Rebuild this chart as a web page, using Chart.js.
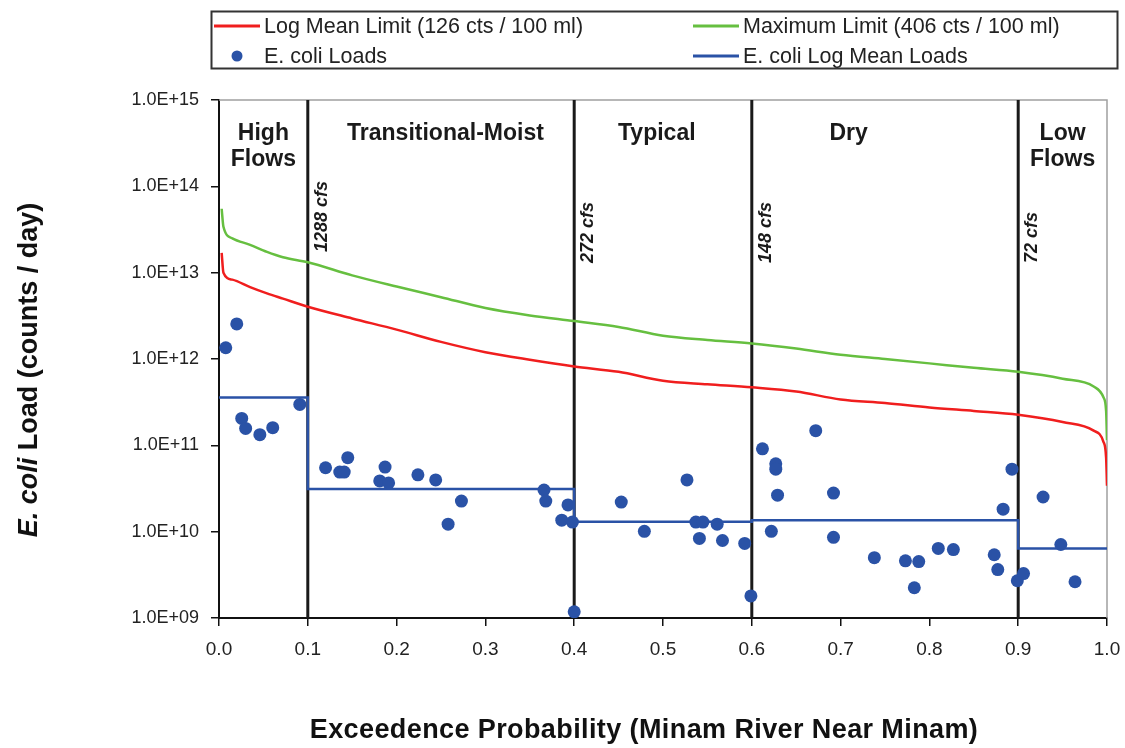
<!DOCTYPE html>
<html>
<head>
<meta charset="utf-8">
<script src="https://cdn.jsdelivr.net/npm/chart.js@4.4.0/dist/chart.umd.min.js"></script>
<style>
  html, body { margin: 0; padding: 0; background: #fff; }
</style>
</head>
<body>
<canvas id="myChart" width="1125" height="748"></canvas>
<script>
// Load duration curve - Minam River near Minam

// exceedence probability along the flow duration curve
var curveX = [0.003, 0.005, 0.015, 0.035, 0.054, 0.072, 0.1, 0.15, 0.2, 0.25, 0.3, 0.35, 0.4, 0.45,
              0.5, 0.55, 0.6, 0.65, 0.7, 0.75, 0.8, 0.85, 0.9, 0.95, 0.985, 0.996, 0.999, 1.0];
// 126 cts / 100 ml
var logMeanLimit = [1.70e13, 1.0e13, 8.3e12, 6.8e12, 5.75e12, 5.0e12, 4.03e12, 2.95e12, 2.19e12, 1.58e12,
                    1.20e12, 9.8e11, 8.2e11, 7.1e11, 5.6e11, 5.1e11, 4.7e11, 4.2e11, 3.4e11, 3.1e11,
                    2.75e11, 2.5e11, 2.26e11, 1.86e11, 1.48e11, 1.10e11, 7.2e10, 3.4e10];
// 406 cts / 100 ml
var maxLimit = [5.5e13, 3.4e13, 2.5e13, 2.1e13, 1.74e13, 1.51e13, 1.32e13, 9.3e12, 6.9e12, 5.2e12,
                3.9e12, 3.2e12, 2.75e12, 2.35e12, 1.86e12, 1.66e12, 1.51e12, 1.32e12, 1.12e12, 1.0e12,
                8.9e11, 7.9e11, 7.1e11, 5.9e11, 4.8e11, 3.6e11, 2.5e11, 1.15e11];

// sampled E. coli loads
var loadX = [0.0076, 0.020, 0.0256, 0.030, 0.046, 0.0605, 0.091,
             0.120, 0.136, 0.141, 0.145, 0.181, 0.191, 0.187, 0.224, 0.244, 0.273, 0.258,
             0.366, 0.368, 0.393, 0.386, 0.398, 0.400,
             0.453, 0.479, 0.527, 0.537, 0.545, 0.561, 0.541, 0.567, 0.592, 0.599,
             0.612, 0.627, 0.627, 0.629, 0.622, 0.672, 0.692, 0.692, 0.738, 0.773, 0.788, 0.783,
             0.810, 0.827, 0.873, 0.877, 0.883, 0.893, 0.899,
             0.906, 0.928, 0.948, 0.964];
var loadY = [1.35e12, 2.55e12, 2.05e11, 1.57e11, 1.33e11, 1.6e11, 2.98e11,
             5.5e10, 4.9e10, 4.9e10, 7.2e10, 3.87e10, 3.67e10, 5.6e10, 4.55e10, 3.98e10, 2.26e10, 1.22e10,
             3.04e10, 2.26e10, 2.04e10, 1.36e10, 1.29e10, 1.18e9,
             2.2e10, 1.01e10, 3.98e10, 1.29e10, 1.29e10, 1.22e10, 8.36e9, 7.9e9, 7.3e9, 1.8e9,
             9.1e10, 6.1e10, 5.3e10, 2.65e10, 1.01e10, 1.48e11, 2.8e10, 8.6e9, 5.0e9, 4.6e9, 4.5e9, 2.24e9,
             6.4e9, 6.2e9, 5.4e9, 3.64e9, 1.82e10, 5.3e10, 2.7e9,
             3.27e9, 2.52e10, 7.1e9, 2.63e9];

// log mean load per flow zone (step line)
var meanX = [0, 0.1, 0.1, 0.4, 0.4, 0.6, 0.6, 0.9, 0.9, 1.0];
var meanY = [3.58e11, 3.58e11, 3.12e10, 3.12e10, 1.3e10, 1.3e10, 1.36e10, 1.36e10, 6.4e9, 6.4e9];

// flow zones
var zoneBreaks = [0.1, 0.4, 0.6, 0.9];
var zoneFlows = ['1288 cfs', '272 cfs', '148 cfs', '72 cfs'];
var zoneNames = [['High', 'Flows'], ['Transitional-Moist'], ['Typical'], ['Dry'], ['Low', 'Flows']];
var zoneNameX = [0.05, 0.255, 0.493, 0.709, 0.95];

var yTicks = [1e9, 1e10, 1e11, 1e12, 1e13, 1e14, 1e15];

var RED = '#f01e1e', GREEN = '#66bf40', BLUE = '#2a52a6';
var FONT = "'Liberation Sans', Arial, sans-serif";

function pts(xs, ys) {
    return xs.map(function (x, i) { return { x: x, y: ys[i] }; });
}

function sci(v) {
    var e = Math.round(Math.log10(v));
    return '1.0E+' + (e < 10 ? '0' + e : e);
}

var datasets = [
    { label: 'E. coli Loads', data: pts(loadX, loadY), showLine: false,
      pointRadius: 6.5, pointBackgroundColor: BLUE, pointBorderWidth: 0, order: 0 },
    { label: 'E. coli Log Mean Loads', data: pts(meanX, meanY), showLine: true,
      borderColor: BLUE, borderWidth: 2.5, pointRadius: 0, order: 1 },
    { label: 'Log Mean Limit', data: pts(curveX, logMeanLimit), showLine: true,
      borderColor: RED, borderWidth: 2.5, pointRadius: 0, cubicInterpolationMode: 'monotone', order: 2 },
    { label: 'Maximum Limit', data: pts(curveX, maxLimit), showLine: true,
      borderColor: GREEN, borderWidth: 2.5, pointRadius: 0, cubicInterpolationMode: 'monotone', order: 3 }
];
zoneBreaks.forEach(function (b) {
    datasets.push({ label: 'zone', data: [{ x: b, y: 1e9 }, { x: b, y: 1e15 }], showLine: true,
                    borderColor: '#1a1a1a', borderWidth: 3, pointRadius: 0, order: 4 });
});

var frame = {
    id: 'frame',
    beforeDatasetsDraw: function (chart) {
        var a = chart.chartArea, ctx = chart.ctx;
        ctx.save();
        ctx.strokeStyle = '#a0a0a0';
        ctx.lineWidth = 1.5;
        ctx.beginPath();
        ctx.moveTo(a.left, a.top);
        ctx.lineTo(a.right, a.top);
        ctx.lineTo(a.right, a.bottom);
        ctx.stroke();
        ctx.restore();
    },
    afterDraw: function (chart) {
        var ctx = chart.ctx, a = chart.chartArea, xs = chart.scales.x;
        ctx.save();
        ctx.fillStyle = '#1a1a1a';

        // zone names
        ctx.font = 'bold 23px ' + FONT;
        ctx.textAlign = 'center';
        ctx.textBaseline = 'middle';
        zoneNames.forEach(function (lines, i) {
            var px = xs.getPixelForValue(zoneNameX[i]);
            lines.forEach(function (t, j) {
                ctx.fillText(t, px, a.top + 34 + j * 26);
            });
        });

        // flow at each zone break
        ctx.font = 'italic bold 18px ' + FONT;
        ctx.textAlign = 'left';
        var bottoms = [252, 263, 263, 263];
        zoneFlows.forEach(function (t, i) {
            var px = xs.getPixelForValue(zoneBreaks[i]) + 14;
            ctx.save();
            ctx.translate(px, bottoms[i]);
            ctx.rotate(-Math.PI / 2);
            ctx.fillText(t, 0, 0);
            ctx.restore();
        });

        // axis titles
        ctx.fillStyle = '#111';
        ctx.font = 'bold 27px ' + FONT;
        ctx.textAlign = 'center';
        ctx.letterSpacing = '0.4px';
        ctx.fillText('Exceedence Probability (Minam River Near Minam)', 644, 731);
        ctx.letterSpacing = '0px';

        ctx.save();
        ctx.translate(30, 370);
        ctx.rotate(-Math.PI / 2);
        var p1 = 'E. coli', p2 = ' Load (counts / day)';
        ctx.font = 'italic bold 27px ' + FONT;
        var w1 = ctx.measureText(p1).width;
        ctx.font = 'bold 27px ' + FONT;
        var w2 = ctx.measureText(p2).width;
        var x0 = -(w1 + w2) / 2;
        ctx.textAlign = 'left';
        ctx.font = 'italic bold 27px ' + FONT;
        ctx.fillText(p1, x0, 0);
        ctx.font = 'bold 27px ' + FONT;
        ctx.fillText(p2, x0 + w1, 0);
        ctx.restore();

        // legend
        ctx.strokeStyle = '#333';
        ctx.lineWidth = 2;
        ctx.strokeRect(211.5, 11.5, 906, 57);
        ctx.font = '21.5px ' + FONT;
        ctx.textAlign = 'left';
        var rows = [26, 56];
        var items = [
            { kind: 'line', color: RED, x: 214, y: rows[0], text: 'Log Mean Limit (126 cts / 100 ml)' },
            { kind: 'line', color: GREEN, x: 693, y: rows[0], text: 'Maximum Limit (406 cts / 100 ml)' },
            { kind: 'dot', color: BLUE, x: 214, y: rows[1], text: 'E. coli Loads' },
            { kind: 'line', color: BLUE, x: 693, y: rows[1], text: 'E. coli Log Mean Loads' }
        ];
        items.forEach(function (it) {
            if (it.kind === 'line') {
                ctx.strokeStyle = it.color;
                ctx.lineWidth = 3;
                ctx.beginPath();
                ctx.moveTo(it.x, it.y);
                ctx.lineTo(it.x + 46, it.y);
                ctx.stroke();
            } else {
                ctx.fillStyle = it.color;
                ctx.beginPath();
                ctx.arc(it.x + 23, it.y, 5.5, 0, Math.PI * 2);
                ctx.fill();
            }
            ctx.fillStyle = '#222';
            ctx.fillText(it.text, it.x + 50, it.y + 1);
        });
        ctx.restore();
    }
};

var ctx = document.getElementById('myChart');
var myChart = new Chart(ctx, {
    type: 'scatter',
    data: { datasets: datasets },
    options: {
        responsive: false,
        animation: false,
        layout: { padding: { top: 100, right: 18, left: 0, bottom: 0 } },
        plugins: { legend: { display: false }, tooltip: { enabled: false } },
        scales: {
            x: {
                type: 'linear', min: 0, max: 1,
                ticks: {
                    stepSize: 0.1, autoSkip: false, maxRotation: 0, padding: 12,
                    color: '#222', font: { family: FONT, size: 19 },
                    callback: function (v) { return v.toFixed(1); }
                },
                grid: { drawOnChartArea: false, drawTicks: true, tickLength: 8, color: '#111', lineWidth: 1.5 },
                border: { display: true, color: '#111', width: 2 },
                afterFit: function (s) {
                    s.height = 130;
                    s.paddingLeft = 0;
                    s.paddingRight = 0;
                }
            },
            y: {
                type: 'logarithmic', min: 1e9, max: 1e15,
                afterBuildTicks: function (s) {
                    s.ticks = yTicks.map(function (v) { return { value: v }; });
                },
                ticks: {
                    padding: 12, color: '#222', font: { family: FONT, size: 18 },
                    callback: function (v) { return sci(v); }
                },
                grid: { drawOnChartArea: false, drawTicks: true, tickLength: 8, color: '#111', lineWidth: 1.5 },
                border: { display: true, color: '#111', width: 2 },
                afterFit: function (s) {
                    s.width = 219;
                    s.paddingTop = 0;
                    s.paddingBottom = 0;
                }
            }
        }
    },
    plugins: [frame]
});
</script>
</body>
</html>
